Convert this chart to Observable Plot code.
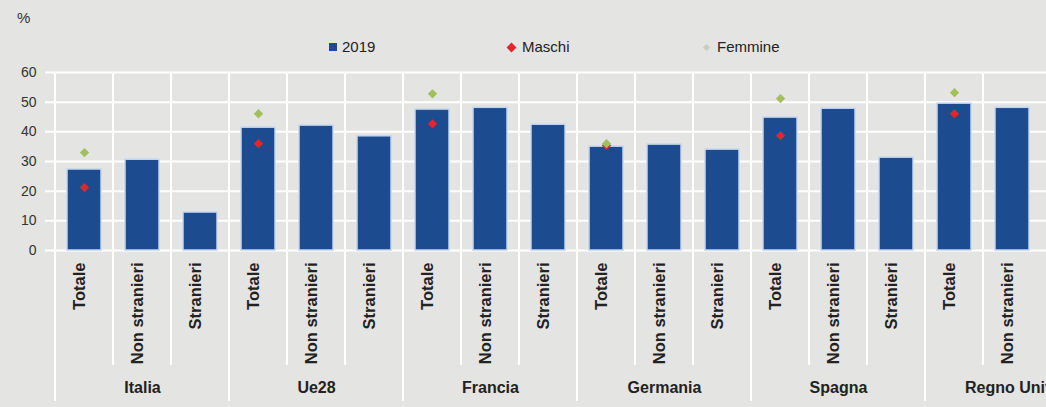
<!DOCTYPE html>
<html>
<head>
<meta charset="utf-8">
<script src="https://cdn.jsdelivr.net/npm/d3@7"></script>
<script src="https://cdn.jsdelivr.net/npm/@observablehq/plot@0.6"></script>
<style>
  html, body { margin: 0; padding: 0; background: #e4e4e2; overflow: hidden; }
  body { width: 1046px; height: 407px; font-family: "Liberation Sans", Arial, sans-serif; color: #222; }
  #head { position: relative; height: 60px; }
  #head .unit { position: absolute; left: 17px; top: 9px; font-size: 15px; color: #333; }
  #head .item { position: absolute; top: 38px; font-size: 15px; line-height: 18px; display: flex; align-items: center; color: #222; }
  #head .sw { display: inline-block; margin-right: 5px; }
  #head .sq { width: 8px; height: 8px; background: #1d4b8f; }
  #head .dm { width: 7px; height: 7px; background: #e8232b; transform: rotate(45deg); margin-left: 2px; margin-right: 7px; }
  #head .dg { width: 5px; height: 5px; background: #c7cdbd; transform: rotate(45deg); margin-left: 4px; margin-right: 8px; }
  #chart svg { display: block; }
</style>
</head>
<body>
<div id="head">
  <span class="unit">%</span>
  <div class="item" style="left:329px"><span class="sw sq"></span>2019</div>
  <div class="item" style="left:506px"><span class="sw dm"></span>Maschi</div>
  <div class="item" style="left:700px"><span class="sw dg"></span>Femmine</div>
</div>
<div id="chart"></div>
<script>
// Countries (outer axis level) and sub-groups (inner axis level)
const countries = ["Italia", "Ue28", "Francia", "Germania", "Spagna", "Regno Unito"];
const groups = ["Totale", "Non stranieri", "Stranieri"];

// 2019 values, %, in the order Totale, Non stranieri, Stranieri
const italia = [27.3, 30.6, 12.8];
const ue28 = [41.4, 42.1, 38.5];
const francia = [47.5, 48.1, 42.4];
const germania = [35.0, 35.7, 34.0];
const spagna = [44.8, 47.8, 31.3];
const regnoUnito = [49.5, 48.1];

// Totale split by sex, one value per country
const maschi = [21.2, 36.0, 42.7, 35.4, 38.7, 46.1];
const femmine = [33.0, 46.1, 52.8, 36.0, 51.2, 53.2];

const yTicks = [0, 10, 20, 30, 40, 50, 60];

const series = [italia, ue28, francia, germania, spagna, regnoUnito];

const rows = [];
countries.forEach((c, ci) => {
  series[ci].forEach((v, gi) => {
    rows.push({key: c + "|" + groups[gi], country: c, group: groups[gi], value: v});
  });
});
const keys = rows.map(d => d.key);

const totals = countries.map((c, ci) => ({
  key: c + "|Totale", maschi: maschi[ci], femmine: femmine[ci]
}));
const countryLabels = countries.map(c => ({key: c + "|Non stranieri", name: c}));

// Category separators: short ones inside a country, long ones between countries
function separators(index, scales, values, dimensions) {
  const g = d3.create("svg:g").attr("stroke", "#ffffff").attr("stroke-width", 2);
  const {marginTop, height} = dimensions;
  rows.forEach(r => {
    const x0 = scales.x(r.key);
    const first = r.group === "Totale";
    g.append("line")
      .attr("x1", x0).attr("x2", x0)
      .attr("y1", marginTop)
      .attr("y2", first ? height - 6 : height - 42);
  });
  return g.node();
}

const chart = Plot.plot({
  width: 1046,
  height: 347,
  marginTop: 12,
  marginBottom: 157,
  marginLeft: 50,
  marginRight: 0,
  style: {background: "transparent", fontFamily: "'Liberation Sans', Arial, sans-serif", color: "#222"},
  x: {domain: keys, padding: 0, axis: null},
  y: {domain: [0, 60], axis: null},
  marks: [
    Plot.ruleY(yTicks, {stroke: "#ffffff", strokeWidth: 2, insetLeft: -5}),
    separators,
    Plot.axisY(yTicks, {tickSize: 0, tickPadding: 14, fontSize: 14, fill: "#333", label: null}),
    Plot.barY(rows, {x: "key", y: "value", fill: "#1d4b8f", insetLeft: 12, insetRight: 12,
      stroke: "#c3d6ee", strokeWidth: 1.5}),
    Plot.dot(totals, {x: "key", y: "maschi", symbol: "diamond2", r: 4.2, fill: "#e8232b", stroke: "none"}),
    Plot.dot(totals, {x: "key", y: "femmine", symbol: "diamond2", r: 4.2, fill: "#a3bf5c", stroke: "none"}),
    Plot.text(rows, {x: "key", text: "group", rotate: -90, textAnchor: "end", frameAnchor: "bottom",
      dy: 12, fontWeight: "bold", fontSize: 16.5, fill: "#222"}),
    Plot.text(countryLabels, {x: "key", text: "name", frameAnchor: "bottom", dy: 142,
      fontWeight: "bold", fontSize: 16, fill: "#222"})
  ]
});

document.getElementById("chart").appendChild(chart);
</script>
</body>
</html>
